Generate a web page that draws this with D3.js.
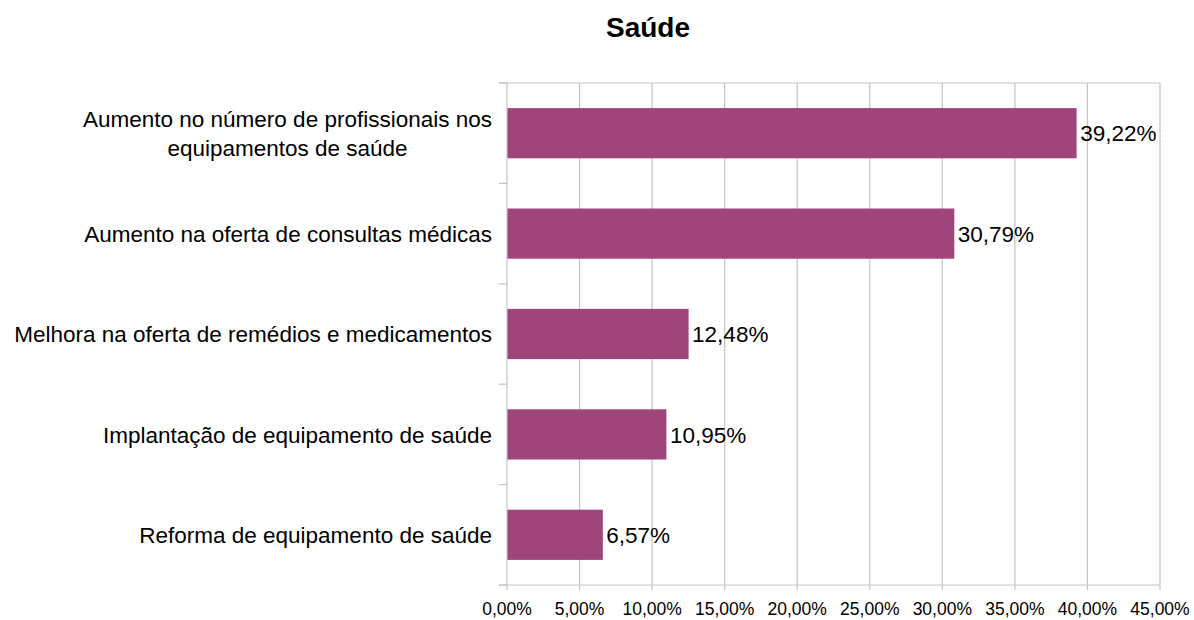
<!DOCTYPE html>
<html>
<head>
  <meta charset="UTF-8">
  <style>
    body { margin: 0; background: #fff; }
    svg text { font-family: "Liberation Sans", Arial, sans-serif; fill: #000; }
  </style>
</head>
<body>
  <svg id="chart"></svg>
  <script src="https://cdn.jsdelivr.net/npm/d3@7"></script>
  <script>
    // data
    const categories = [
      ["Aumento no número de profissionais nos", "equipamentos de saúde"],
      ["Aumento na oferta de consultas médicas"],
      ["Melhora na oferta de remédios e medicamentos"],
      ["Implantação de equipamento de saúde"],
      ["Reforma de equipamento de saúde"]
    ];
    const values = [39.22, 30.79, 12.48, 10.95, 6.57];
    const xTicks = [0, 5, 10, 15, 20, 25, 30, 35, 40, 45];
    const title = "Saúde";

    const width = 1194, height = 620;
    const margin = { top: 83, right: 34, bottom: 35, left: 507 };

    const svg = d3.select("#chart").attr("width", width).attr("height", height);
    const fmt = v => v.toFixed(2).replace(".", ",") + "%";

    const x = d3.scaleLinear().domain([0, 45]).range([margin.left, width - margin.right]);
    const y = d3.scaleBand().domain(d3.range(categories.length))
      .range([margin.top, height - margin.bottom]).paddingInner(0.5).paddingOuter(0.25);

    // grid lines
    svg.append("g").selectAll("line").data(xTicks).enter().append("line")
      .attr("x1", d => x(d)).attr("x2", d => x(d))
      .attr("y1", margin.top).attr("y2", height - margin.bottom + 5)
      .attr("stroke", "#c3c3c3").attr("stroke-width", 1.2);

    // top border line
    svg.append("line")
      .attr("x1", margin.left - 8).attr("x2", x(45))
      .attr("y1", margin.top).attr("y2", margin.top)
      .attr("stroke", "#c3c3c3").attr("stroke-width", 1.2);

    // y axis ticks on band edges
    const edges = d3.range(categories.length + 1).map(i => margin.top + i * y.step());
    svg.append("g").selectAll("line").data(edges).enter().append("line")
      .attr("x1", margin.left - 8).attr("x2", margin.left)
      .attr("y1", d => d).attr("y2", d => d)
      .attr("stroke", "#c3c3c3").attr("stroke-width", 1.2);

    // bottom axis
    svg.append("line")
      .attr("x1", margin.left - 8).attr("x2", x(45))
      .attr("y1", height - margin.bottom).attr("y2", height - margin.bottom)
      .attr("stroke", "#c3c3c3").attr("stroke-width", 1.2);

    // bars
    svg.append("g").selectAll("rect").data(values).enter().append("rect")
      .attr("x", x(0) + 0.5)
      .attr("y", (d, i) => y(i))
      .attr("width", d => x(d) - x(0))
      .attr("height", y.bandwidth())
      .attr("fill", "#a0457b");

    // value labels
    svg.append("g").selectAll("text").data(values).enter().append("text")
      .attr("x", d => x(d) + 4)
      .attr("y", (d, i) => y(i) + y.bandwidth() / 2)
      .attr("dy", "0.36em")
      .attr("font-size", 22.5)
      .text(d => fmt(d));

    // x tick labels
    svg.append("g").selectAll("text").data(xTicks).enter().append("text")
      .attr("x", d => x(d))
      .attr("y", 615)
      .attr("text-anchor", "middle")
      .attr("font-size", 17.5)
      .text(d => fmt(d));

    // category labels (multi-line centered, block right aligned)
    const labelRight = margin.left - 15;
    const lineH = 29;
    categories.forEach((lines, i) => {
      const g = svg.append("g");
      const cy = y(i) + y.bandwidth() / 2;
      const texts = lines.map((t, j) => g.append("text")
        .attr("y", cy + (j - (lines.length - 1) / 2) * lineH)
        .attr("dy", "0.36em")
        .attr("font-size", 22.5)
        .attr("text-anchor", "middle")
        .text(t));
      const w = d3.max(texts, t => t.node().getComputedTextLength());
      texts.forEach(t => t.attr("x", labelRight - w / 2));
    });

    // title
    svg.append("text")
      .attr("x", 648).attr("y", 37)
      .attr("text-anchor", "middle")
      .attr("font-size", 28)
      .attr("font-weight", "bold")
      .text(title);
  </script>
</body>
</html>
